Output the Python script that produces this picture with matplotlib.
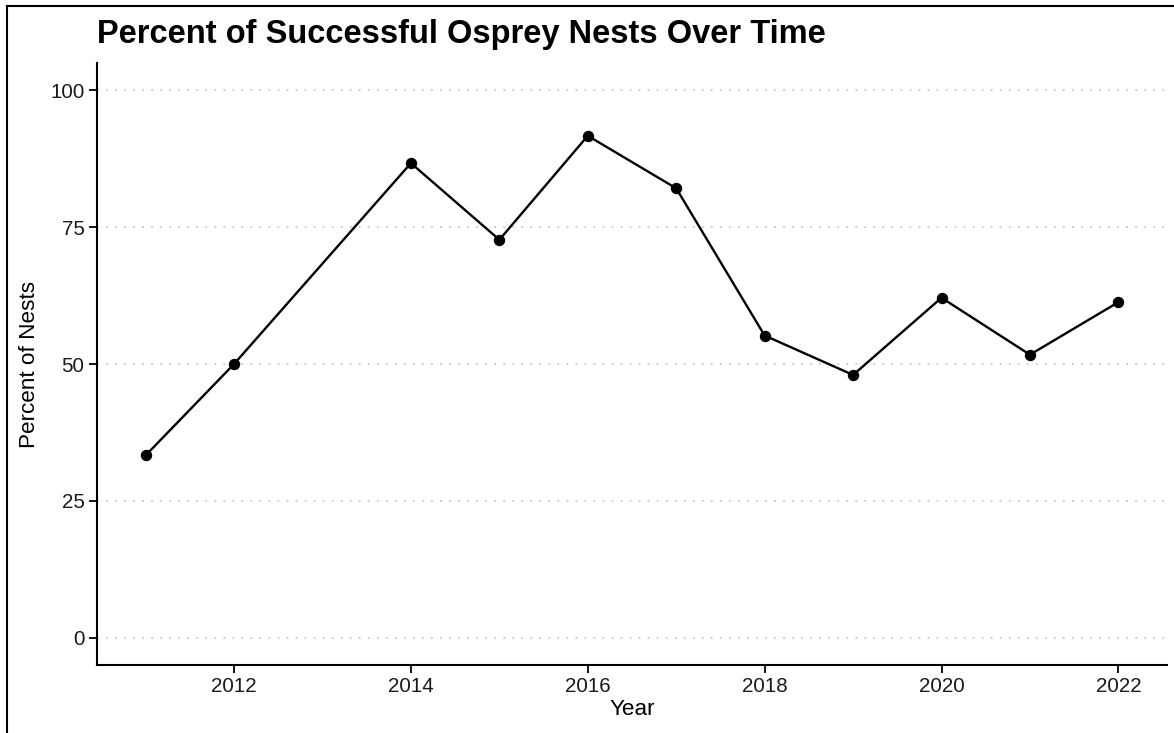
import numpy as np
import matplotlib
matplotlib.use("Agg")
import matplotlib.pyplot as plt
from matplotlib.lines import Line2D

# values
years = [2011, 2012, 2014, 2015, 2016, 2017, 2018, 2019, 2020, 2021, 2022]
pct_success = [33.3, 50.0, 86.7, 72.7, 91.7, 82.1, 55.2, 48.0, 62.1, 51.7, 61.3]
x_ticks = [2012, 2014, 2016, 2018, 2020, 2022]
y_ticks = [0, 25, 50, 75, 100]

plt.rcParams["font.family"] = ["Liberation Sans", "DejaVu Sans"]

W, H = 1174, 733
fig = plt.figure(figsize=(W / 100, H / 100), dpi=100)

# axes box in pixels: left, top, right, bottom
L, T, R, B = 97, 63, 1167, 665
ax = fig.add_axes([L / W, 1 - B / H, (R - L) / W, (B - T) / H])

ax.plot(years, pct_success, color="black", lw=1.7, zorder=3)
ax.plot(years, pct_success, "o", color="black", ms=7.2, zorder=4)

ax.set_xlim(2010.45, 2022.55)
ax.set_ylim(-5, 105)
ax.set_xticks(x_ticks)
ax.set_yticks(y_ticks)
ax.yaxis.grid(True, ls=(0, (1, 4)), color="#c8c8c8", lw=1.3)
ax.set_axisbelow(True)

for s in ("top", "right"):
    ax.spines[s].set_visible(False)
for s in ("left", "bottom"):
    ax.spines[s].set_linewidth(1.5)
ax.tick_params(length=6, width=1.3, labelsize=14.8, pad=3, colors="black")
for lab in ax.get_xticklabels() + ax.get_yticklabels():
    lab.set_color("#1a1a1a")

ax.set_xlabel("Year", fontsize=16.2, labelpad=2)
ax.set_ylabel("Percent of Nests", fontsize=16.2, labelpad=7)

fig.text(L / W, 1 - 43 / H, "Percent of Successful Osprey Nests Over Time",
         fontsize=23.5, fontweight="bold", ha="left", va="baseline")

# outer frame (top and left edges visible in the reference)
fig.add_artist(Line2D([7 / W, 7 / W], [0, 1 - 6 / H], color="black", lw=1.5,
                      transform=fig.transFigure))
fig.add_artist(Line2D([7 / W, 1], [1 - 6 / H, 1 - 6 / H], color="black", lw=1.5,
                      transform=fig.transFigure))

fig.savefig("out.png", dpi=100, facecolor="white")
